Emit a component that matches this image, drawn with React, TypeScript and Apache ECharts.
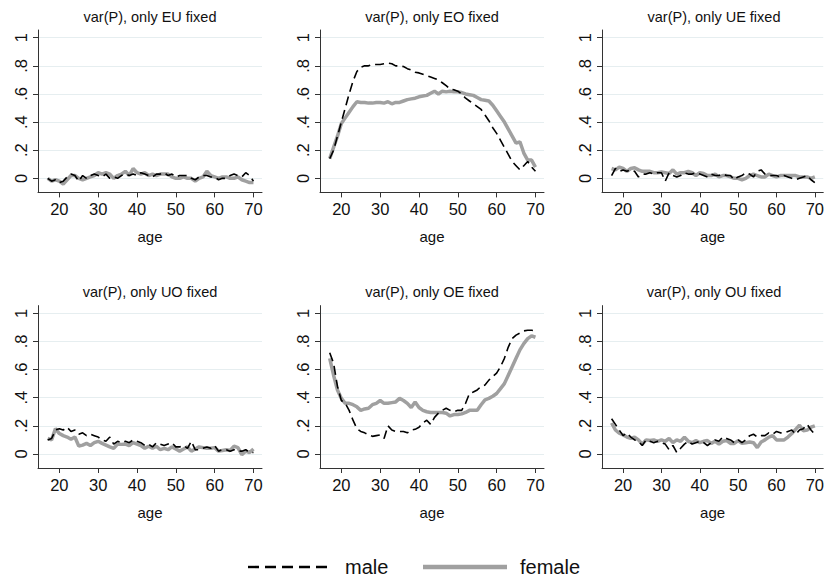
import { useEffect, useRef } from 'react'
import * as echarts from 'echarts'

const ages = [17, 18, 19, 20, 21, 22, 23, 24, 25, 26, 27, 28, 29, 30, 31, 32, 33, 34, 35, 36, 37, 38, 39, 40, 41, 42, 43, 44, 45, 46, 47, 48, 49, 50, 51, 52, 53, 54, 55, 56, 57, 58, 59, 60, 61, 62, 63, 64, 65, 66, 67, 68, 69, 70]

const titles = [
  'var(P), only EU fixed',
  'var(P), only EO fixed',
  'var(P), only UE fixed',
  'var(P), only UO fixed',
  'var(P), only OE fixed',
  'var(P), only OU fixed'
]

const legendNames = ['male', 'female']
const xTicks = [20, 30, 40, 50, 60, 70]
const yTicks = [0, 0.2, 0.4, 0.6, 0.8, 1]

// male (dashed) per panel
const maleEU = [0.0, -0.02, -0.01, -0.03, -0.02, 0.01, 0.03, 0.02, -0.02, 0.02, 0.0, 0.02, 0.03, 0.02, 0.01, 0.03, 0.0, 0.01, 0.0, 0.02, 0.03, 0.02, 0.03, 0.02, 0.04, 0.03, 0.02, 0.01, 0.03, 0.03, 0.04, 0.02, 0.03, 0.01, 0.02, 0.02, 0.02, 0.0, -0.01, 0.01, 0.02, 0.02, 0.01, 0.01, -0.01, 0.0, 0.0, 0.02, 0.03, 0.02, 0.01, 0.04, 0.02, -0.02]
const maleEO = [0.14, 0.2, 0.3, 0.4, 0.5, 0.6, 0.69, 0.76, 0.79, 0.8, 0.8, 0.81, 0.81, 0.81, 0.815, 0.82, 0.815, 0.8, 0.8, 0.795, 0.78, 0.77, 0.755, 0.75, 0.74, 0.73, 0.72, 0.71, 0.7, 0.68, 0.66, 0.635, 0.63, 0.62, 0.6, 0.57, 0.55, 0.53, 0.51, 0.49, 0.45, 0.41, 0.36, 0.32, 0.27, 0.22, 0.17, 0.12, 0.09, 0.06, 0.09, 0.12, 0.08, 0.05]
const maleUE = [0.02, 0.07, 0.05, 0.06, 0.05, 0.06, 0.05, 0.01, 0.03, 0.03, 0.04, 0.03, 0.04, 0.04, -0.02, 0.04, 0.02, 0.01, 0.02, 0.04, 0.03, 0.03, 0.04, 0.03, 0.02, 0.01, 0.03, 0.02, 0.02, 0.03, 0.02, 0.02, -0.01, 0.01, 0.02, 0.04, 0.03, 0.01, 0.05, 0.06, 0.03, 0.02, 0.02, 0.02, 0.01, 0.02, 0.01, 0.0, -0.01, 0.0, 0.01, 0.02, -0.01, -0.03]
const maleUO = [0.1, 0.11, 0.17, 0.18, 0.17, 0.19, 0.16, 0.17, 0.14, 0.15, 0.13, 0.14, 0.13, 0.12, 0.1, 0.09, 0.12, 0.07, 0.09, 0.08, 0.09, 0.08, 0.1, 0.09, 0.08, 0.06, 0.07, 0.05, 0.08, 0.07, 0.06, 0.07, 0.08, 0.05, 0.05, 0.06, 0.04, 0.09, 0.03, 0.03, 0.04, 0.05, 0.04, 0.06, 0.02, 0.03, 0.03, 0.02, 0.03, 0.02, 0.02, 0.03, 0.01, 0.01]
const maleOE = [0.72, 0.645, 0.48, 0.38, 0.36, 0.31, 0.24, 0.18, 0.16, 0.15, 0.135, 0.125, 0.13, 0.135, 0.11, 0.2, 0.17, 0.16, 0.16, 0.16, 0.15, 0.17, 0.175, 0.19, 0.22, 0.24, 0.21, 0.26, 0.29, 0.31, 0.325, 0.31, 0.3, 0.31, 0.31, 0.36, 0.43, 0.44, 0.455, 0.48, 0.49, 0.525, 0.55, 0.575, 0.62, 0.68, 0.76, 0.82, 0.845, 0.86, 0.875, 0.88, 0.88, 0.875]
const maleOU = [0.25, 0.21, 0.17, 0.13, 0.15, 0.12, 0.1, 0.09, 0.06, 0.1, 0.09, 0.08, 0.09, 0.08, 0.07, 0.03, 0.06, 0.01, 0.04, 0.07, 0.09, 0.07, 0.08, 0.09, 0.08, 0.06, 0.08, 0.1, 0.09, 0.12, 0.11, 0.1, 0.08, 0.1, 0.08, 0.1, 0.13, 0.14, 0.12, 0.13, 0.13, 0.15, 0.14, 0.16, 0.15, 0.15, 0.16, 0.17, 0.14, 0.17, 0.18, 0.21, 0.17, 0.14]

// female (thick gray) per panel
const femaleEU = [0.0, -0.02, -0.01, -0.02, -0.04, -0.01, 0.02, 0.02, 0.0, -0.01, 0.0, 0.01, 0.02, 0.04, 0.03, 0.04, 0.03, 0.0, 0.02, 0.03, 0.05, 0.02, 0.07, 0.04, 0.03, 0.04, 0.02, 0.03, 0.02, 0.03, 0.03, 0.03, 0.01, 0.0, 0.0, 0.01, 0.0, 0.0, -0.02, 0.0, 0.01, 0.05, 0.02, 0.01, 0.0, 0.01, 0.01, 0.0, 0.0, 0.01, -0.01, -0.02, -0.03, -0.03]
const femaleEO = [0.14, 0.22, 0.3, 0.39, 0.43, 0.47, 0.51, 0.545, 0.54, 0.54, 0.535, 0.535, 0.54, 0.54, 0.535, 0.545, 0.53, 0.54, 0.54, 0.55, 0.56, 0.565, 0.57, 0.58, 0.585, 0.59, 0.605, 0.62, 0.6, 0.62, 0.615, 0.62, 0.615, 0.615, 0.61, 0.6, 0.595, 0.59, 0.575, 0.56, 0.555, 0.55, 0.52, 0.48, 0.44, 0.4, 0.35, 0.3, 0.25, 0.26, 0.18, 0.13, 0.13, 0.08]
const femaleUE = [0.07, 0.06, 0.08, 0.07, 0.05, 0.07, 0.075, 0.06, 0.05, 0.05, 0.05, 0.04, 0.04, 0.045, 0.04, 0.035, 0.06, 0.03, 0.04, 0.04, 0.05, 0.04, 0.02, 0.04, 0.035, 0.02, 0.02, 0.03, 0.01, 0.02, 0.02, 0.01, 0.0, 0.0, -0.01, 0.0, 0.02, 0.03, 0.02, 0.01, 0.01, 0.03, 0.02, 0.01, 0.02, 0.02, 0.02, 0.02, 0.02, 0.01, 0.01, 0.01, 0.0, 0.01]
const femaleUO = [0.11, 0.1, 0.18, 0.145, 0.13, 0.12, 0.105, 0.12, 0.056, 0.063, 0.075, 0.06, 0.08, 0.09, 0.075, 0.063, 0.05, 0.04, 0.07, 0.068, 0.07, 0.06, 0.08, 0.07, 0.06, 0.04, 0.055, 0.04, 0.055, 0.03, 0.04, 0.03, 0.05, 0.035, 0.02, 0.035, 0.05, 0.02, 0.035, 0.05, 0.045, 0.04, 0.04, 0.045, 0.02, 0.025, 0.03, 0.025, 0.055, 0.045, -0.005, 0.02, 0.01, 0.035]
const femaleOE = [0.68, 0.56, 0.455, 0.395, 0.36, 0.36, 0.35, 0.335, 0.31, 0.32, 0.325, 0.35, 0.36, 0.38, 0.36, 0.36, 0.365, 0.37, 0.395, 0.38, 0.36, 0.33, 0.37, 0.33, 0.31, 0.3, 0.295, 0.295, 0.295, 0.295, 0.29, 0.27, 0.28, 0.28, 0.285, 0.295, 0.31, 0.31, 0.31, 0.35, 0.385, 0.395, 0.41, 0.43, 0.465, 0.5, 0.56, 0.62, 0.68, 0.74, 0.785, 0.82, 0.84, 0.83]
const femaleOU = [0.22, 0.17, 0.147, 0.135, 0.12, 0.11, 0.12, 0.1, 0.07, 0.1, 0.095, 0.1, 0.09, 0.1, 0.09, 0.11, 0.08, 0.1, 0.09, 0.12, 0.09, 0.08, 0.095, 0.08, 0.09, 0.095, 0.075, 0.09, 0.07, 0.09, 0.095, 0.075, 0.075, 0.095, 0.075, 0.08, 0.085, 0.08, 0.045, 0.085, 0.1, 0.12, 0.13, 0.1, 0.1, 0.1, 0.12, 0.145, 0.175, 0.205, 0.165, 0.17, 0.19, 0.2]

const maleSeries = [maleEU, maleEO, maleUE, maleUO, maleOE, maleOU]
const femaleSeries = [femaleEU, femaleEO, femaleUE, femaleUO, femaleOE, femaleOU]

const FONT = '"Liberation Sans", Arial, sans-serif'
const MALE_COLOR = '#000'
const FEMALE_COLOR = '#a0a0a0'
const colLeft = [38, 320, 602]
const rowTop = [30, 305.6]
const gridW = 224
const gridH = 162.4

const fmtY = (v: number) => (v === 0 ? '0' : v === 1 ? '1' : String(v).replace(/^0/, ''))

export default function App() {
  const chartRef = useRef<HTMLDivElement>(null)

  useEffect(() => {
    if (!chartRef.current) return
    document.body.style.margin = '0'
    const chart = echarts.init(chartRef.current, null, { renderer: 'svg' })

    const grids: any[] = []
    const xAxes: any[] = []
    const yAxes: any[] = []
    const graphics: any[] = []
    const series: any[] = []

    titles.forEach((t, i) => {
      const left = colLeft[i % 3]
      const top = rowTop[Math.floor(i / 3)]
      grids.push({ left, top, width: gridW, height: gridH })
      // panel title
      graphics.push({
        type: 'text',
        x: left + gridW / 2,
        y: top - 13.5,
        style: {
          text: t,
          fontFamily: FONT,
          fontSize: 14.5,
          fill: '#111',
          textAlign: 'center',
          textVerticalAlign: 'middle'
        }
      })
      xAxes.push({
        type: 'value',
        gridIndex: i,
        min: 14.5,
        max: 72.2,
        name: 'age',
        nameLocation: 'middle',
        nameGap: 37,
        nameTextStyle: { fontFamily: FONT, fontSize: 15, color: '#111' },
        axisLine: { onZero: false, lineStyle: { color: '#333', width: 1 } },
        axisTick: { length: 5, customValues: xTicks, lineStyle: { color: '#333' } },
        axisLabel: { customValues: xTicks, margin: 8, fontFamily: FONT, fontSize: 16.5, color: '#111' },
        splitLine: { show: false }
      })
      yAxes.push({
        type: 'value',
        gridIndex: i,
        min: -0.1,
        max: 1.055,
        axisLine: { show: true, onZero: false, lineStyle: { color: '#333', width: 1 } },
        axisTick: { show: true, length: 5, customValues: yTicks, lineStyle: { color: '#333' } },
        axisLabel: {
          customValues: yTicks,
          rotate: 90,
          margin: 9,
          formatter: fmtY,
          fontFamily: FONT,
          fontSize: 16.5,
          color: '#111'
        },
        splitLine: { show: true, lineStyle: { color: '#e6eef0', width: 1 } }
      })
      series.push({
        name: 'female',
        type: 'line',
        xAxisIndex: i,
        yAxisIndex: i,
        data: ages.map((a, k) => [a, femaleSeries[i][k]]),
        symbol: 'none',
        lineStyle: { color: FEMALE_COLOR, width: 3.5 },
        itemStyle: { color: FEMALE_COLOR },
        z: 2
      })
      series.push({
        name: 'male',
        type: 'line',
        xAxisIndex: i,
        yAxisIndex: i,
        data: ages.map((a, k) => [a, maleSeries[i][k]]),
        symbol: 'none',
        lineStyle: { color: MALE_COLOR, width: 1.6, type: [9, 5] },
        itemStyle: { color: MALE_COLOR },
        z: 3
      })
    })

    // legend drawn by hand: dashed key for male, thick gray key for female
    const legendY = 567
    graphics.push(
      {
        type: 'line',
        shape: { x1: 248, y1: legendY, x2: 330, y2: legendY },
        style: { stroke: MALE_COLOR, lineWidth: 2.4, lineDash: [11, 6] }
      },
      {
        type: 'text',
        x: 345,
        y: legendY,
        style: { text: legendNames[0], fontFamily: FONT, fontSize: 20, fill: '#111', textVerticalAlign: 'middle' }
      },
      {
        type: 'line',
        shape: { x1: 423, y1: legendY, x2: 507, y2: legendY },
        style: { stroke: FEMALE_COLOR, lineWidth: 4.5 }
      },
      {
        type: 'text',
        x: 520,
        y: legendY,
        style: { text: legendNames[1], fontFamily: FONT, fontSize: 20, fill: '#111', textVerticalAlign: 'middle' }
      }
    )

    chart.setOption({
      animation: false,
      backgroundColor: '#fff',
      grid: grids,
      xAxis: xAxes,
      yAxis: yAxes,
      graphic: graphics,
      series
    })

    return () => {
      chart.dispose()
    }
  }, [])

  return <div ref={chartRef} style={{ width: 827, height: 586 }} />
}
